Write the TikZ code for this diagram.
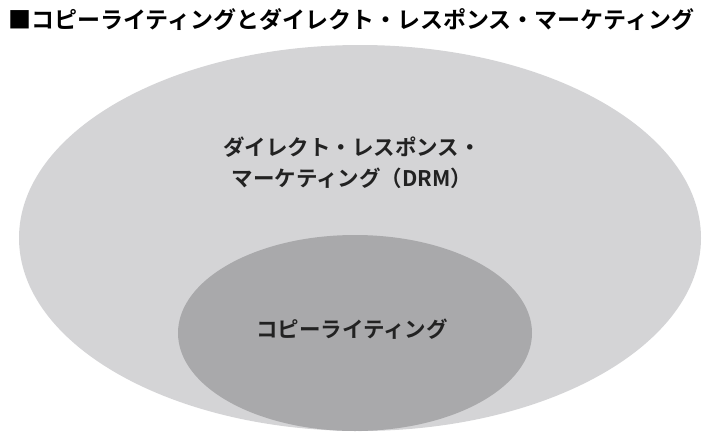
\documentclass[tikz,border=0pt]{standalone}
\usepackage{fontspec}
\newfontfamily\jpfont{Noto Sans CJK JP}
\newfontfamily\jpbold{Noto Sans CJK JP Bold}
\definecolor{outergray}{HTML}{D4D4D6}
\definecolor{innergray}{HTML}{A9A9AB}
\definecolor{textgray}{HTML}{222222}
\begin{document}
\begin{tikzpicture}[x=1pt,y=-1pt,
  area/.style={draw=none},
  label/.style={font=\jpbold\fontsize{21.5}{31}\selectfont,text=textgray,align=center}]
\useasboundingbox (0,0) rectangle (715,434);
\node[anchor=west,inner sep=0pt,font=\jpbold\fontsize{23}{26}\selectfont,xscale=1.0] (title) at (8,20) {■コピーライティングとダイレクト・レスポンス・マーケティング};
\fill[outergray] (360,238) ellipse [x radius=341, y radius=193];
\fill[innergray] (355,333) ellipse [x radius=177, y radius=98];
\node[label] (drm) at (352,163) {ダイレクト・レスポンス・\\マーケティング（DRM）};
\node[label] (copy) at (352,329) {コピーライティング};
\end{tikzpicture}
\end{document}
